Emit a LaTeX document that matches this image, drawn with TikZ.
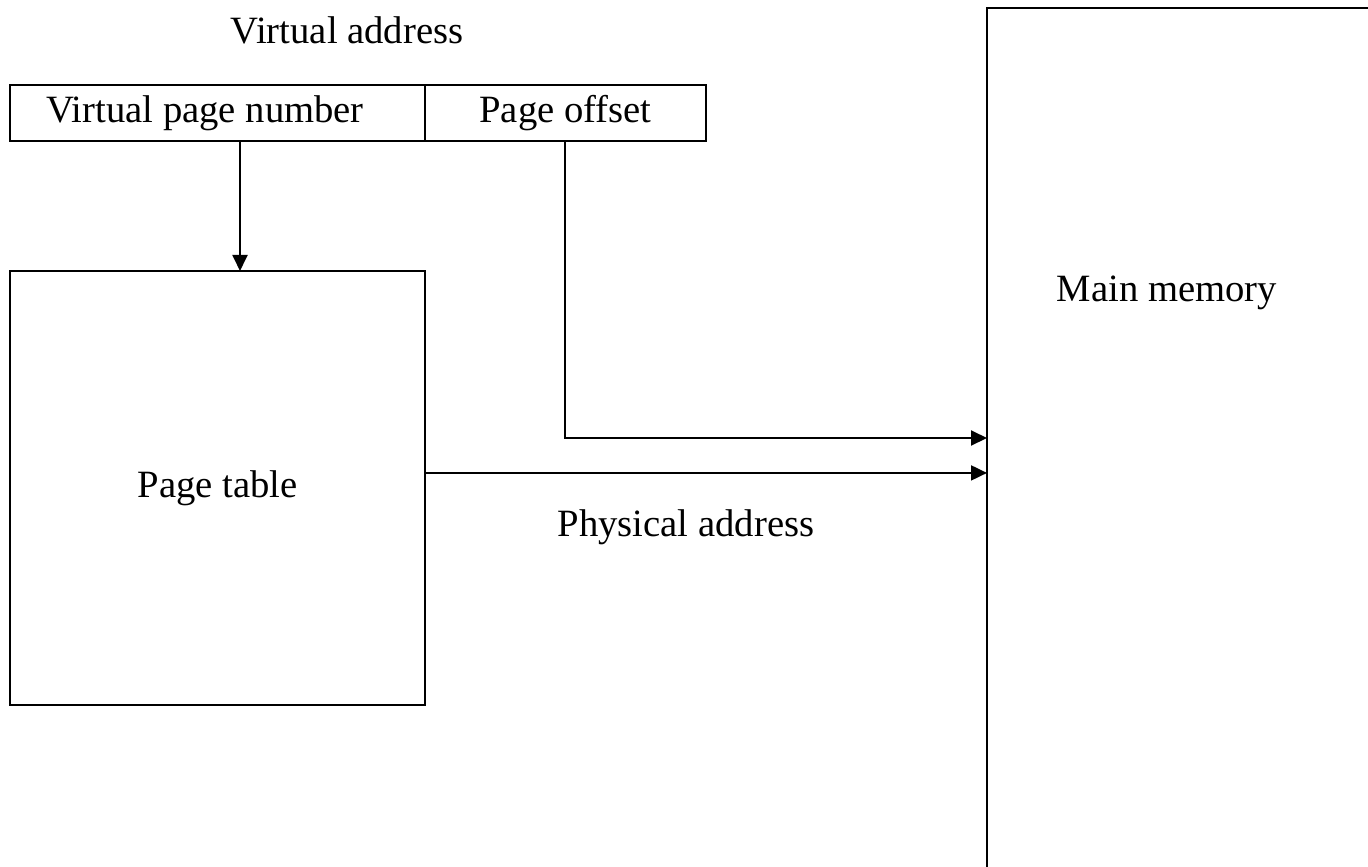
\documentclass[tikz,border=0pt]{standalone}
\usepackage{fontspec}
\setmainfont{Liberation Serif}
\usepackage{tikz}
\usetikzlibrary{arrows.meta, positioning, calc}
\tikzset{
  cell/.style={rectangle, draw=black, line width=1.1pt, outer sep=0pt,
    minimum height=1.12cm, text centered, inner sep=0pt},
  box/.style={rectangle, draw=black, line width=1.1pt, outer sep=0pt,
    inner sep=0pt},
  lbl/.style={inner sep=0pt},
  arr/.style={-{Triangle[length=0.32cm, width=0.3cm]}, line width=1.1pt},
}

\begin{document}
\begin{tikzpicture}[x=0.02cm, y=-0.02cm,
    font=\fontsize{22}{26}\selectfont]
  \useasboundingbox (0,0) rectangle (1368,866);
  \clip (0,0) rectangle (1368,866);
  % virtual address
  \node[lbl] (va) at (347,30) {Virtual address};
  \node[cell, minimum width=8.3cm] (vpn) at (217.5,113)
    {Virtual page number\rule{0.5cm}{0pt}};
  \node[cell, minimum width=5.62cm, right=0pt of vpn] (off) {Page offset};
  % page table and memory
  \node[box, minimum width=8.3cm, minimum height=8.68cm,
        below=2.6cm of vpn] (ptab) {Page table};
  \node[box, anchor=north west, minimum width=9cm, minimum height=18cm]
    (mem) at (987,8) {};
  \node[lbl] (mlbl) at (1167,293) {Main memory};
  % connectors
  \draw[arr] ($(vpn.south)+(22.5,0)$) -- ($(ptab.north)+(22.5,0)$);
  \draw[arr] (off.south) |- ($(mem.north west)+(0,430)$);
  \draw[arr] ($(ptab.east)+(0,-15)$) coordinate (pa) -- (pa -| mem.west);
  \node[lbl] (phys) at (686,527) {Physical address};
\end{tikzpicture}
\end{document}
